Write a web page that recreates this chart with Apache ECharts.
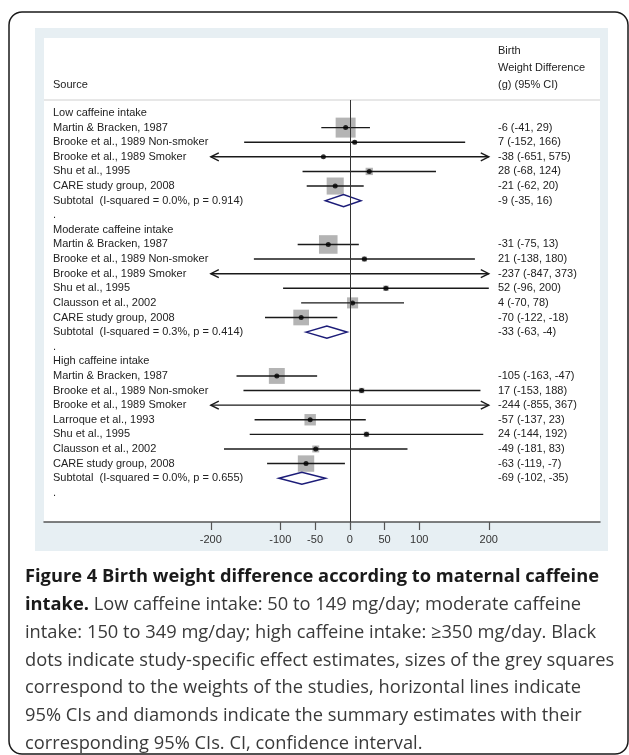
<!DOCTYPE html>
<html><head><meta charset="utf-8">
<script src="https://cdn.jsdelivr.net/npm/echarts@6/dist/echarts.min.js"></script>
<style>html,body{margin:0;padding:0;background:#fff}#c{width:629px;height:755px}</style>
</head><body><div id="c"></div>
<script>
// ---------- data ----------
const rowLabels = [
  'Low caffeine intake','Martin & Bracken, 1987','Brooke et al., 1989 Non-smoker','Brooke et al., 1989 Smoker','Shu et al., 1995','CARE study group, 2008','Subtotal  (I-squared = 0.0%, p = 0.914)','.',
  'Moderate caffeine intake','Martin & Bracken, 1987','Brooke et al., 1989 Non-smoker','Brooke et al., 1989 Smoker','Shu et al., 1995','Clausson et al., 2002','CARE study group, 2008','Subtotal  (I-squared = 0.3%, p = 0.414)','.',
  'High caffeine intake','Martin & Bracken, 1987','Brooke et al., 1989 Non-smoker','Brooke et al., 1989 Smoker','Larroque et al., 1993','Shu et al., 1995','Clausson et al., 2002','CARE study group, 2008','Subtotal  (I-squared = 0.0%, p = 0.655)','.'
];
const rowKind = [
  'group','study','study','study','study','study','subtotal','blank',
  'group','study','study','study','study','study','study','subtotal','blank',
  'group','study','study','study','study','study','study','study','subtotal','blank'
];
const estimate = [null,-6,7,-38,28,-21,-9,null, null,-31,21,-237,52,4,-70,-33,null, null,-105,17,-244,-57,24,-49,-63,-69,null];
const lowerCI  = [null,-41,-152,-651,-68,-62,-35,null, null,-75,-138,-847,-96,-70,-122,-63,null, null,-163,-153,-855,-137,-144,-181,-119,-102,null];
const upperCI  = [null,29,166,575,124,20,16,null, null,13,180,373,200,78,-18,-4,null, null,-47,188,367,23,192,83,-7,-35,null];
const weight   = [null,52,2.5,0.2,7,38,null,null, null,45,3.4,0.2,3.9,16,32,null,null, null,33,3.8,0.3,17,3.9,6.3,35,null,null];
const xTicks = [-200,-100,-50,0,50,100,200];
const displayLimit = 200;
const headerSource = 'Source';
const headerEffect = ['Birth','Weight Difference','(g) (95% CI)'];
const captionLines = [
  'Figure 4 Birth weight difference according to maternal caffeine',
  'intake.| Low caffeine intake: 50 to 149 mg/day; moderate caffeine',
  'intake: 150 to 349 mg/day; high caffeine intake: \u2265350 mg/day. Black',
  'dots indicate study-specific effect estimates, sizes of the grey squares',
  'correspond to the weights of the studies, horizontal lines indicate',
  '95% CIs and diamonds indicate the summary estimates with their',
  'corresponding 95% CIs. CI, confidence interval.'
];

// ---------- build ----------
const FONT = '11px "Liberation Sans", Arial, sans-serif';
const CAP = '18.3px "Open Sans", sans-serif';
const CAPB = 'bold 18.3px "Open Sans", sans-serif';
const rows = rowLabels.map((l, i) => [i, estimate[i], lowerCI[i], upperCI[i], weight[i]]);
const studyRows = rows.filter((r, i) => rowKind[i] === 'study');
const subRows = rows.filter((r, i) => rowKind[i] === 'subtotal');
const dotRows = studyRows.filter(r => Math.abs(r[1]) <= displayLimit).map(r => [r[1], r[0]]);
const effectText = rows.map((r, i) => (rowKind[i] === 'study' || rowKind[i] === 'subtotal') ? `${r[1]} (${r[2]}, ${r[3]})` : '');

const chart = echarts.init(document.getElementById('c'));
const mid = {verticalAlign:'middle', textVerticalAlign:'middle'};

const graphics = [
  {type:'rect', z:-10, shape:{x:9, y:12, width:619, height:742, r:13}, style:{fill:'#fff', stroke:'#1a1a1a', lineWidth:1.5}},
  {type:'rect', z:-9, shape:{x:35, y:28, width:573, height:523}, style:{fill:'#e7eff3'}},
  {type:'rect', z:-8, shape:{x:44, y:38, width:556, height:484}, style:{fill:'#ffffff'}},
  {type:'line', z:-7, shape:{x1:44, y1:100, x2:600, y2:100}, style:{stroke:'#cfcfcf', lineWidth:1}},
  {type:'text', z:10, x:53, y:85, style:Object.assign({text:headerSource, font:FONT, fill:'#222'}, mid)},
];
headerEffect.forEach((t, k) => graphics.push({type:'text', z:10, x:498, y:51 + k*17, style:Object.assign({text:t, font:FONT, fill:'#222'}, mid)}));
captionLines.forEach((t, k) => {
  const y = 577 + k*27.8;
  let style;
  if (k === 0) {
    style = {text:t, font:CAPB, fill:'#1a1a1a'};
  } else if (t.indexOf('|') >= 0) {
    const parts = t.split('|');
    style = {text:'{b|' + parts[0] + '}{n|' + parts[1] + '}', rich:{b:{font:CAPB, fill:'#1a1a1a'}, n:{font:CAP, fill:'#3a3a3a'}}};
  } else {
    style = {text:t, font:CAP, fill:'#3a3a3a'};
  }
  graphics.push({type:'text', z:10, x:25, y, style:Object.assign(style, mid)});
});

chart.setOption({
  animation:false,
  graphic:graphics,
  grid:{left:44, right:29, top:100, height:422, containLabel:false},
  xAxis:{type:'value', min:-440, max:360,
    splitLine:{show:false},
    axisLine:{show:true, onZero:false, lineStyle:{color:'#555', width:1.5}},
    axisTick:{show:true, length:8, customValues:xTicks, lineStyle:{color:'#555', width:1.2}},
    axisLabel:{show:true, customValues:xTicks, margin:12, fontSize:11, fontFamily:'"Liberation Sans", Arial, sans-serif', color:'#333'}
  },
  yAxis:{type:'value', inverse:true, min:-0.89, max:28, show:false},
  series:[
    { // row labels + effect text
      type:'custom', z:5, data:rows.map((r,i)=>[i]),
      renderItem:(params, api) => {
        const i = api.value(0);
        const y = api.coord([0, i])[1];
        const cs = params.coordSys;
        return {type:'group', children:[
          {type:'text', x:cs.x + 9, y, style:Object.assign({text:rowLabels[i], font:FONT, fill:'#222'}, mid)},
          {type:'text', x:cs.x + cs.width - 102, y, style:Object.assign({text:effectText[i], font:FONT, fill:'#222'}, mid)}
        ]};
      }
    },
    { // grey weight squares
      type:'custom', z:2, data:studyRows,
      renderItem:(params, api) => {
        const est = api.value(1);
        if (Math.abs(est) > displayLimit) return null;
        const p = api.coord([est, api.value(0)]);
        const s = 2.77 * Math.sqrt(api.value(4));
        return {type:'rect', shape:{x:p[0]-s/2, y:p[1]-s/2, width:s, height:s}, style:{fill:'#b4b4b4'}};
      }
    },
    { // CI lines with arrows
      type:'custom', z:3, data:studyRows,
      renderItem:(params, api) => {
        const i = api.value(0), lo = api.value(2), hi = api.value(3);
        const a = api.coord([Math.max(lo, -displayLimit), i]);
        const b = api.coord([Math.min(hi, displayLimit), i]);
        const st = {stroke:'#1a1a1a', lineWidth:1.4, fill:'none'};
        const ch = [{type:'line', shape:{x1:a[0], y1:a[1], x2:b[0], y2:b[1]}, style:st}];
        if (lo < -displayLimit) ch.push({type:'polyline', shape:{points:[[a[0]+8,a[1]-4],[a[0],a[1]],[a[0]+8,a[1]+4]]}, style:st});
        if (hi > displayLimit) ch.push({type:'polyline', shape:{points:[[b[0]-8,b[1]-4],[b[0],b[1]],[b[0]-8,b[1]+4]]}, style:st});
        return {type:'group', children:ch};
      }
    },
    { // study point estimates
      type:'scatter', z:4, data:dotRows, symbol:'circle', symbolSize:5,
      itemStyle:{color:'#000'}, silent:true,
      markLine:{silent:true, symbol:'none', label:{show:false}, lineStyle:{color:'#333', width:1, type:'solid'}, data:[{xAxis:0}]}
    },
    { // subtotal diamonds
      type:'custom', z:4, data:subRows,
      renderItem:(params, api) => {
        const i = api.value(0);
        const c = api.coord([api.value(1), i]);
        const l = api.coord([api.value(2), i]);
        const r = api.coord([api.value(3), i]);
        return {type:'polygon', shape:{points:[[l[0],c[1]],[c[0],c[1]-6],[r[0],c[1]],[c[0],c[1]+6]]}, style:{fill:'#fff', stroke:'#1c1c78', lineWidth:1.5}};
      }
    }
  ]
});
</script></body></html>
